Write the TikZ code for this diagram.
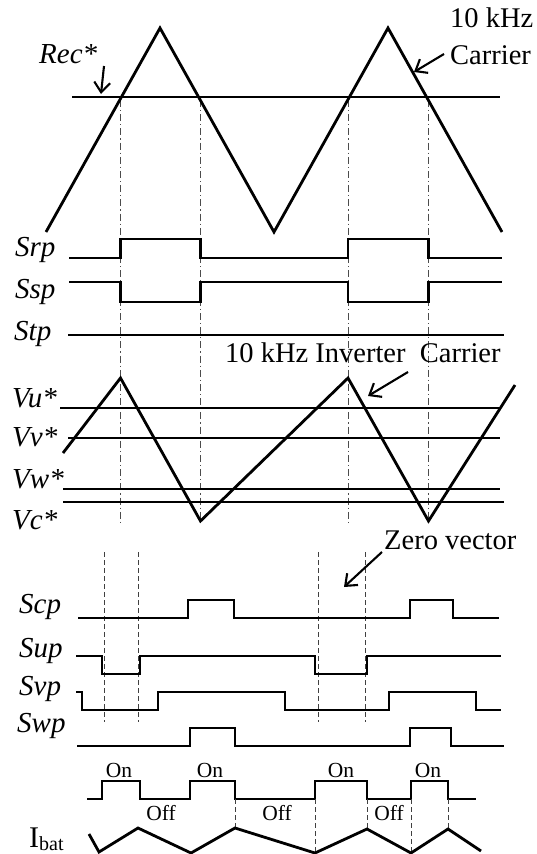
\documentclass[tikz,border=0pt]{standalone}
\usepackage{fontspec}
\setmainfont{Liberation Serif}
\usetikzlibrary{arrows.meta}
\begin{document}
\begin{tikzpicture}[x=1pt,y=-1pt,
  wave/.style={line width=2.8pt, line join=miter},
  dashdotline/.style={line width=0.8pt, black!70, dash pattern=on 7pt off 3pt on 1.2pt off 3pt},
  dashline/.style={line width=0.8pt, black!75, dash pattern=on 5pt off 3pt},
  pointer/.style={line width=2.1pt, -{Straight Barb[length=10pt,width=16pt,line width=2.1pt]}},
  siglabel/.style={anchor=base west, inner sep=0pt, font=\fontsize{29}{29}\selectfont\itshape},
  txtlabel/.style={anchor=base west, inner sep=0pt, font=\fontsize{28.5}{28.5}\selectfont},
  onoff/.style={anchor=base, inner sep=0pt, font=\fontsize{21.5}{21.5}\selectfont}]
\useasboundingbox (0,0) rectangle (537,854);
\fill[white] (0,0) rectangle (537,854);

% dash-dot verticals
\foreach \xx in {120.5,200.5,348,428.5}
  \draw[dashdotline] (\xx,100) -- (\xx,522);

% rectifier carrier and reference
\draw[wave] (46,232) -- (160,28) -- (274,232) -- (388,28) -- (502,232);
\draw[wave] (72,97) -- (500,97);

% rectifier switching signals
\draw[wave] (69,258) -- (120.5,258) -- (120.5,239) -- (200.5,239) -- (200.5,258) -- (348,258) -- (348,239) -- (428.5,239) -- (428.5,258) -- (502,258);
\draw[wave] (69,282) -- (120.5,282) -- (120.5,302) -- (200.5,302) -- (200.5,282) -- (348,282) -- (348,302) -- (428.5,302) -- (428.5,282) -- (502,282);
\draw[wave] (68,335) -- (504,335);

% inverter carrier and references
\draw[wave] (63,453) -- (120.5,378) -- (200.5,521) -- (348,378) -- (428.5,521) -- (515,385);
\draw[wave] (60,408) -- (501,408);
\draw[wave] (68,438) -- (500,438);
\draw[wave] (63,489) -- (500,489);
\draw[wave] (63,502) -- (504,502);

% dashed verticals (zero vectors)
\foreach \xx in {104,138,318,365}
  \draw[dashline] (\xx,552) -- (\xx,722);

% inverter switching signals
\draw[wave] (78,618) -- (188,618) -- (188,600) -- (234,600) -- (234,618) -- (410,618) -- (410,600) -- (453,600) -- (453,618) -- (499,618);
\draw[wave] (76,656) -- (102,656) -- (102,674) -- (140,674) -- (140,656) -- (315,656) -- (315,674) -- (367,674) -- (367,656) -- (501,656);
\draw[wave] (76,692) -- (82,692) -- (82,710) -- (158,710) -- (158,692) -- (285,692) -- (285,710) -- (389,710) -- (389,692) -- (476,692) -- (476,710) -- (501,710);
\draw[wave] (77,746) -- (190,746) -- (190,728) -- (235,728) -- (235,746) -- (410,746) -- (410,728) -- (451,728) -- (451,746) -- (504,746);

% on/off
\draw[wave] (87,799) -- (102,799) -- (102,781) -- (140,781) -- (140,799) -- (190,799) -- (190,781) -- (235,781) -- (235,799) -- (315,799) -- (315,781) -- (367,781) -- (367,799) -- (411,799) -- (411,781) -- (448,781) -- (448,799) -- (476,799);
\draw[dashline] (235,799) -- (235,828);
\draw[dashline] (315,799) -- (315,853);
\draw[dashline] (367,799) -- (367,829);
\draw[dashline] (411,799) -- (411,853);
\draw[dashline] (448,799) -- (448,829);

% battery current
\draw[wave] (89,834) -- (99,852) -- (138,828) -- (191,853) -- (235,828) -- (315,853) -- (367,829) -- (411,853) -- (448,829) -- (481,851);

% labels
\node[siglabel] (rec) at (39,63) {Rec*};
\node[txtlabel] (khz) at (450,27) {10 kHz};
\node[txtlabel] (car) at (450,64) {Carrier};
\node[siglabel] (srp) at (15,256) {Srp};
\node[siglabel] (ssp) at (15,298) {Ssp};
\node[siglabel] (stp) at (14,340) {Stp};
\node[txtlabel] (inv) at (225,362) {10 kHz Inverter\ \ Carrier};
\node[siglabel] (vu) at (12,407) {Vu*};
\node[siglabel] (vv) at (12,446) {Vv*};
\node[siglabel] (vw) at (12,488) {Vw*};
\node[siglabel] (vc) at (12,529) {Vc*};
\node[txtlabel] (zero) at (384,549) {Zero vector};
\node[siglabel] (scp) at (19,613) {Scp};
\node[siglabel] (sup) at (19,657) {Sup};
\node[siglabel] (svp) at (19,695) {Svp};
\node[siglabel] (swp) at (17,732) {Swp};
\node[onoff] (on1) at (119,777) {On};
\node[onoff] (on2) at (210,777) {On};
\node[onoff] (on3) at (341,777) {On};
\node[onoff] (on4) at (428,777) {On};
\node[onoff] (off1) at (161,820) {Off};
\node[onoff] (off2) at (277,820) {Off};
\node[onoff] (off3) at (389,820) {Off};
\node[anchor=base west, inner sep=0pt, font=\fontsize{30}{30}\selectfont] (ibat) at (29,847) {I\raisebox{-3pt}{\fontsize{20}{20}\selectfont bat}};

% pointer arrows
\coordinate (recT) at (104,66);
\coordinate (recH) at (101,94);
\coordinate (carT) at (444,54);
\coordinate (carH) at (414,72);
\coordinate (invT) at (408,372);
\coordinate (invH) at (368,396);
\coordinate (zeroT) at (382,552);
\coordinate (zeroH) at (344,587);
\draw[pointer] (recT) -- (recH);
\draw[pointer] (carT) -- (carH);
\draw[pointer] (invT) -- (invH);
\draw[pointer] (zeroT) -- (zeroH);
\end{tikzpicture}
\end{document}
